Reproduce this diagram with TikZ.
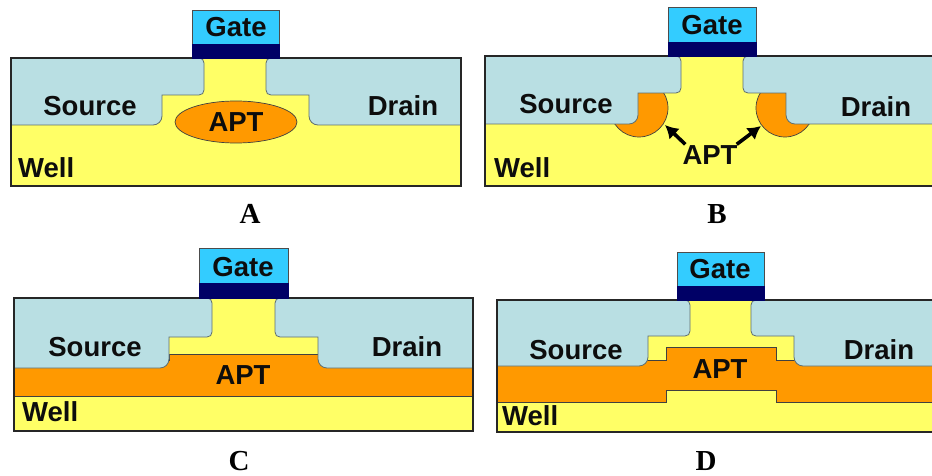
\documentclass[tikz,border=0pt]{standalone}
\usepackage{fontspec}
\setmainfont{Liberation Sans}
\newfontfamily\capserif{Liberation Serif}
\usetikzlibrary{arrows.meta,shapes.geometric}
\definecolor{wellc}{HTML}{FFFF66}
\definecolor{aptc}{HTML}{FF9900}
\definecolor{sdc}{HTML}{B9DFE3}
\definecolor{gatec}{HTML}{33CCFF}
\definecolor{oxc}{HTML}{000066}
\definecolor{edgec}{HTML}{5F6F70}
\tikzset{
  wellbox/.style={fill=wellc},
  frame/.style={draw=black!85,line width=1.9pt},
  contact/.style={fill=sdc,draw=edgec,line width=0.8pt},
  aptshape/.style={fill=aptc,draw=black!75,line width=0.7pt},
  gatebox/.style={fill=gatec,draw=black!70,line width=0.7pt},
  oxbox/.style={fill=oxc,draw=oxc,line width=0.5pt},
  lab/.style={font=\bfseries\fontsize{27.5}{27.5}\selectfont,inner sep=0pt,text=black!95},
  panelname/.style={font=\capserif\bfseries\fontsize{29}{29}\selectfont,inner sep=0pt},
  aptarrow/.style={-{Latex[length=13pt,width=15pt]},line width=3.6pt,black}
}
% #1 outer x, #2 upper inner x, #3 lower inner x, #4 top, #5 step, #6 bottom, #7 sign
\newcommand{\contactpath}[7]{%
  \path[contact] (#1,#4) -- ({#2-#7*5},#4) .. controls ({#2-#7*2},#4) and (#2,{#4+2}) .. (#2,{#4+5})
    -- (#2,{#5-5}) .. controls (#2,{#5-2}) and ({#2-#7*2},#5) .. ({#2-#7*5},#5) -- (#3,#5)
    -- (#3,{#6-9}) .. controls (#3,{#6-4}) and ({#3-#7*4},#6) .. ({#3-#7*9},#6) -- (#1,#6);}
\begin{document}
\begin{tikzpicture}[x=1pt,y=-1pt]
\useasboundingbox (0,0) rectangle (932,476);
\clip (0,0) rectangle (932,476);
% ===== A
\path[wellbox] (11,58) rectangle (461,186);
\node[aptshape,ellipse,minimum width=122pt,minimum height=42pt,inner sep=0pt] (aptA) at (236,122) {};
\contactpath{11}{204}{162}{58}{95}{125}{1}
\contactpath{461}{266}{309}{58}{95}{125}{-1}
\draw[frame] (11,58) rectangle (461,186);
\path[gatebox] (192,10) rectangle (279,44);
\path[oxbox] (192,44) rectangle (279,58);
\node[lab] (gateA) at (236,27) {Gate};
\node[lab] (srcA) at (90,106) {Source};
\node[lab] (drnA) at (403,106) {Drain};
\node[lab] (aptAt) at (236,122) {APT};
\node[lab,anchor=west] (wellA) at (18,168) {Well};
\node[panelname] (nameA) at (250,214) {A};
% ===== B
\path[wellbox] (485,56) rectangle (945,186);
\path[aptshape] (639,108) circle (29);
\path[aptshape] (785,108) circle (29);
\contactpath{485}{681}{638}{56}{93}{124}{1}
\contactpath{945}{743}{786}{56}{93}{124}{-1}
\draw[frame] (485,56) rectangle (945,186);
\path[gatebox] (668,7) rectangle (756,42);
\path[oxbox] (668,42) rectangle (756,56);
\node[lab] (gateB) at (712,25) {Gate};
\node[lab] (srcB) at (566,104) {Source};
\node[lab] (drnB) at (876,107) {Drain};
\node[lab] (aptB) at (710,155) {APT};
\coordinate (tipL) at (665,125);
\coordinate (tipR) at (761,126);
\draw[aptarrow] ([xshift=3pt,yshift=1pt]aptB.north west) -- (tipL);
\draw[aptarrow] ([xshift=-1pt,yshift=1pt]aptB.north east) -- (tipR);
\node[lab,anchor=west] (wellB) at (494,168) {Well};
\node[panelname] (nameB) at (717,214) {B};
% ===== C
\path[wellbox] (14,298) rectangle (473,431);
\path[aptshape] (14,396) -- (14,360) -- (169,360) -- (169,354) -- (318,354) -- (318,360) -- (473,360) -- (473,396) -- cycle;
\contactpath{14}{212}{169}{298}{337}{368}{1}
\contactpath{473}{275}{318}{298}{337}{368}{-1}
\draw[frame] (14,298) rectangle (473,431);
\path[gatebox] (199,248) rectangle (288,283);
\path[oxbox] (199,283) rectangle (288,298);
\node[lab] (gateC) at (243,267) {Gate};
\node[lab] (srcC) at (95,347) {Source};
\node[lab] (drnC) at (407,347) {Drain};
\node[lab] (aptC) at (243,375) {APT};
\node[lab,anchor=west] (wellC) at (22,412) {Well};
\node[panelname] (nameC) at (239,461) {C};
% ===== D
\path[wellbox] (497,300) rectangle (945,432);
\path[aptshape] (497,402) -- (497,360) -- (666,360) -- (666,347) -- (776,347) -- (776,360) -- (945,360) -- (945,402)
  -- (776,402) -- (776,390) -- (666,390) -- (666,402) -- cycle;
\contactpath{497}{690}{648}{300}{336}{366}{1}
\contactpath{945}{751}{794}{300}{336}{366}{-1}
\draw[frame] (497,300) rectangle (945,432);
\path[gatebox] (677,252) rectangle (764,286);
\path[oxbox] (677,286) rectangle (764,300);
\node[lab] (gateD) at (720,269) {Gate};
\node[lab] (srcD) at (576,350) {Source};
\node[lab] (drnD) at (879,350) {Drain};
\node[lab] (aptD) at (720,369) {APT};
\node[lab,anchor=west] (wellD) at (502,416) {Well};
\node[panelname] (nameD) at (706,461) {D};
\end{tikzpicture}
\end{document}
